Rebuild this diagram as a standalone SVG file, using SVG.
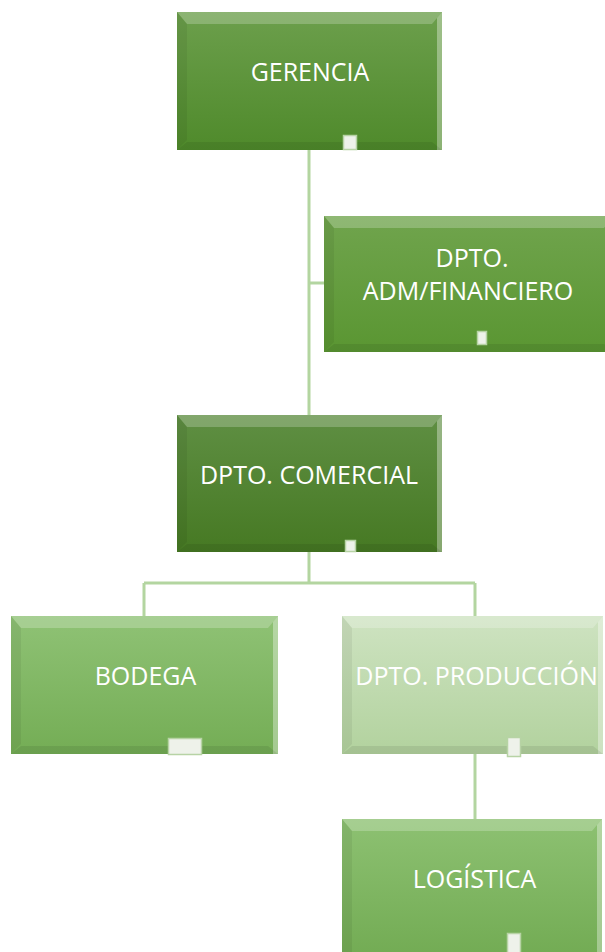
<svg xmlns="http://www.w3.org/2000/svg" width="605" height="952" viewBox="0 0 605 952">
<style>
.lbl{font-family:"Open Sans","Liberation Sans",sans-serif;font-size:25px;fill:#ffffff;text-anchor:middle}
.conn{stroke:#b3d5a0;stroke-width:3;fill:none}
.bt{fill:#ffffff;fill-opacity:0.22}
.br{fill:#ffffff;fill-opacity:0.35}
.bl{fill:#000000;fill-opacity:0.06}
.bb{fill:#000000;fill-opacity:0.08}
.tab{fill:#eef2ea;stroke:#b7d3a5;stroke-width:1.5}
</style>
<defs>
<linearGradient id="gG" x1="0" y1="0" x2="0" y2="1"><stop offset="0" stop-color="#6c9f4c"/><stop offset="1" stop-color="#4f8a2b"/></linearGradient>
<linearGradient id="gA" x1="0" y1="0" x2="0" y2="1"><stop offset="0" stop-color="#70a44d"/><stop offset="1" stop-color="#5a9632"/></linearGradient>
<linearGradient id="gC" x1="0" y1="0" x2="0" y2="1"><stop offset="0" stop-color="#5f8f43"/><stop offset="1" stop-color="#467923"/></linearGradient>
<linearGradient id="gB" x1="0" y1="0" x2="0" y2="1"><stop offset="0" stop-color="#8fc275"/><stop offset="1" stop-color="#74ad55"/></linearGradient>
<linearGradient id="gP" x1="0" y1="0" x2="0" y2="1"><stop offset="0" stop-color="#cee3c1"/><stop offset="1" stop-color="#b2d29e"/></linearGradient>
<linearGradient id="gL" x1="0" y1="0" x2="0" y2="1"><stop offset="0" stop-color="#8dc172"/><stop offset="1" stop-color="#72ab53"/></linearGradient>
</defs>

<g id="connectors">
<path class="conn" d="M309,150 V415"/>
<path class="conn" d="M309,283 H324"/>
<path class="conn" d="M309,552 V583 M144,583 H475 M144,583 V616 M475,583 V616"/>
<path class="conn" d="M475,754 V819"/>
</g>

<g id="gerencia">
<rect x="177" y="12" width="265" height="138" fill="url(#gG)"/>
<polygon class="bt" points="177,12 442,12 432,24 187,24"/>
<polygon class="br" points="442,12 442,150 437,150 437,18"/>
<polygon class="bl" points="177,12 187,24 187,140 177,150"/>
<polygon class="bb" points="177,150 442,150 432,142 187,142"/>
<text class="lbl" x="310" y="81">GERENCIA</text>
<rect class="tab" x="343.5" y="135.5" width="13" height="14"/>
</g>

<g id="adm">
<rect x="324" y="216" width="290" height="136" fill="url(#gA)"/>
<polygon class="bt" points="324,216 614,216 604,228 334,228"/>
<polygon class="bl" points="324,216 334,228 334,342 324,352"/>
<polygon class="bb" points="324,352 614,352 604,344 334,344"/>
<text class="lbl" x="472" y="267">DPTO.</text>
<text class="lbl" x="468" y="300">ADM/FINANCIERO</text>
<rect class="tab" x="477.5" y="331.5" width="9" height="13"/>
</g>

<g id="comercial">
<rect x="177" y="415" width="265" height="137" fill="url(#gC)"/>
<polygon class="bt" points="177,415 442,415 432,427 187,427"/>
<polygon class="br" points="442,415 442,552 437,552 437,421"/>
<polygon class="bl" points="177,415 187,427 187,542 177,552"/>
<polygon class="bb" points="177,552 442,552 432,544 187,544"/>
<text class="lbl" x="309" y="484">DPTO. COMERCIAL</text>
<rect class="tab" x="345.5" y="540.5" width="10" height="11"/>
</g>

<g id="bodega">
<rect x="11" y="616" width="267" height="138" fill="url(#gB)"/>
<polygon class="bt" points="11,616 278,616 268,628 21,628"/>
<polygon class="br" points="278,616 278,754 273,754 273,622"/>
<polygon class="bl" points="11,616 21,628 21,744 11,754"/>
<polygon class="bb" points="11,754 278,754 268,746 21,746"/>
<text class="lbl" x="145.5" y="685">BODEGA</text>
<rect class="tab" x="168.5" y="738.5" width="33" height="16"/>
</g>

<g id="produccion">
<rect x="342" y="616" width="261" height="138" fill="url(#gP)"/>
<polygon class="bt" points="342,616 603,616 593,628 352,628"/>
<polygon class="br" points="603,616 603,754 598,754 598,622"/>
<polygon class="bl" points="342,616 352,628 352,744 342,754"/>
<polygon class="bb" points="342,754 603,754 593,746 352,746"/>
<text class="lbl" x="476.5" y="685">DPTO. PRODUCCIÓN</text>
<rect class="tab" x="507.5" y="737.5" width="13" height="19"/>
</g>

<g id="logistica">
<rect x="342" y="819" width="260" height="140" fill="url(#gL)"/>
<polygon class="bt" points="342,819 602,819 592,831 352,831"/>
<polygon class="br" points="602,819 602,959 597,959 597,825"/>
<polygon class="bl" points="342,819 352,831 352,959 342,959"/>
<text class="lbl" x="474.5" y="888">LOGÍSTICA</text>
<rect class="tab" x="507.5" y="933.5" width="13" height="20"/>
</g>
</svg>
